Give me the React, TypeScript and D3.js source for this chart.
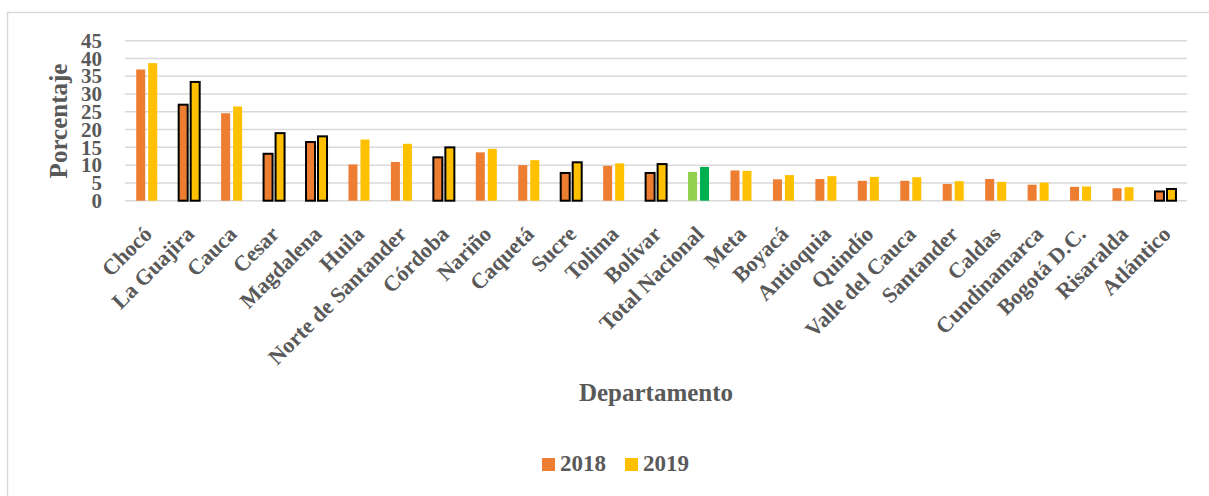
import React from "react";
import * as d3 from "d3";

const categories = [
  "Chocó", "La Guajira", "Cauca", "Cesar", "Magdalena", "Huila", "Norte de Santander",
  "Córdoba", "Nariño", "Caquetá", "Sucre", "Tolima", "Bolívar", "Total Nacional",
  "Meta", "Boyacá", "Antioquia", "Quindío", "Valle del Cauca", "Santander", "Caldas",
  "Cundinamarca", "Bogotá D.C.", "Risaralda", "Atlántico",
];
const values2018 = [36.9, 27.0, 24.6, 13.2, 16.5, 10.2, 10.9, 12.2, 13.6, 10.0, 7.8, 9.8, 7.8, 8.1, 8.5, 6.0, 6.1, 5.6, 5.6, 4.7, 6.1, 4.5, 3.9, 3.5, 2.6];
const values2019 = [38.7, 33.4, 26.5, 19.0, 18.1, 17.2, 16.0, 15.0, 14.6, 11.4, 10.8, 10.5, 10.3, 9.5, 8.4, 7.2, 6.9, 6.7, 6.6, 5.5, 5.3, 5.1, 4.0, 3.8, 3.3];
const caribbean = ["La Guajira", "Cesar", "Magdalena", "Córdoba", "Sucre", "Bolívar", "Atlántico"];
const series = ["2018", "2019"];
const yTicks = [0, 5, 10, 15, 20, 25, 30, 35, 40, 45];

const W = 1209;
const H = 496;
const TEXT = "#595959";
const GRID = "#D9D9D9";
const FONT = "'Liberation Serif', 'Times New Roman', serif";
const colors: Record<string, string> = { "2018": "#ED7D31", "2019": "#FFC000" };
const totalColors: Record<string, string> = { "2018": "#92D050", "2019": "#00B050" };

export default function App() {
  const x0 = d3.scaleBand<string>().domain(categories).range([125.5, 1186.7]);
  const x1 = d3.scaleBand<string>().domain(series).range([0, 21]).paddingInner(0.25);
  const y = d3.scaleLinear().domain([0, 45]).range([200.7, 40.7]);

  const rows = categories.map((c, i) => ({ c, v: { "2018": values2018[i], "2019": values2019[i] } as Record<string, number> }));

  return (
    <svg width={W} height={H} style={{ position: "absolute", left: 0, top: 0, background: "#fff" }} fontFamily={FONT}>
      <rect x={7.5} y={12.5} width={W + 10} height={H + 10} fill="#fff" stroke={GRID} strokeWidth={1.5} />
      {yTicks.map((t) => (
        <line key={"g" + t} x1={125} x2={1187} y1={y(t)} y2={y(t)} stroke={GRID} strokeWidth={1.5} />
      ))}
      {yTicks.map((t) => (
        <text key={"t" + t} x={102} y={y(t)} dy="0.34em" textAnchor="end" fontSize={21} fontWeight="bold" fill={TEXT}>
          {t}
        </text>
      ))}
      {rows.map((r) => {
        const cx = (x0(r.c) as number) + x0.bandwidth() / 2;
        const border = caribbean.includes(r.c);
        const isTotal = r.c === "Total Nacional";
        return (
          <g key={r.c}>
            {series.map((s) => {
              const bx = cx - 10.5 + (x1(s) as number);
              const by = y(r.v[s]);
              return (
                <rect
                  key={s}
                  x={bx}
                  y={by}
                  width={x1.bandwidth()}
                  height={y(0) - by}
                  fill={isTotal ? totalColors[s] : colors[s]}
                  stroke={border ? "#000" : "none"}
                  strokeWidth={border ? 2 : 0}
                />
              );
            })}
            <text
              transform={`translate(${cx + 1},${230}) rotate(-45)`}
              textAnchor="end"
              dy="0.35em"
              fontSize={22}
              fontWeight="bold"
              fill={TEXT}
            >
              {r.c}
            </text>
          </g>
        );
      })}
      <text transform="translate(58,121) rotate(-90)" textAnchor="middle" dy="0.35em" fontSize={25} fontWeight="bold" fill={TEXT}>
        Porcentaje
      </text>
      <text x={656} y={401} textAnchor="middle" fontSize={25} fontWeight="bold" fill={TEXT}>
        Departamento
      </text>
      {series.map((s, i) => (
        <g key={"l" + s} transform={`translate(${542 + i * 83},0)`}>
          <rect x={0} y={458} width={13} height={13} fill={colors[s]} />
          <text x={18} y={471} fontSize={23} fontWeight="bold" fill={TEXT}>
            {s}
          </text>
        </g>
      ))}
    </svg>
  );
}
